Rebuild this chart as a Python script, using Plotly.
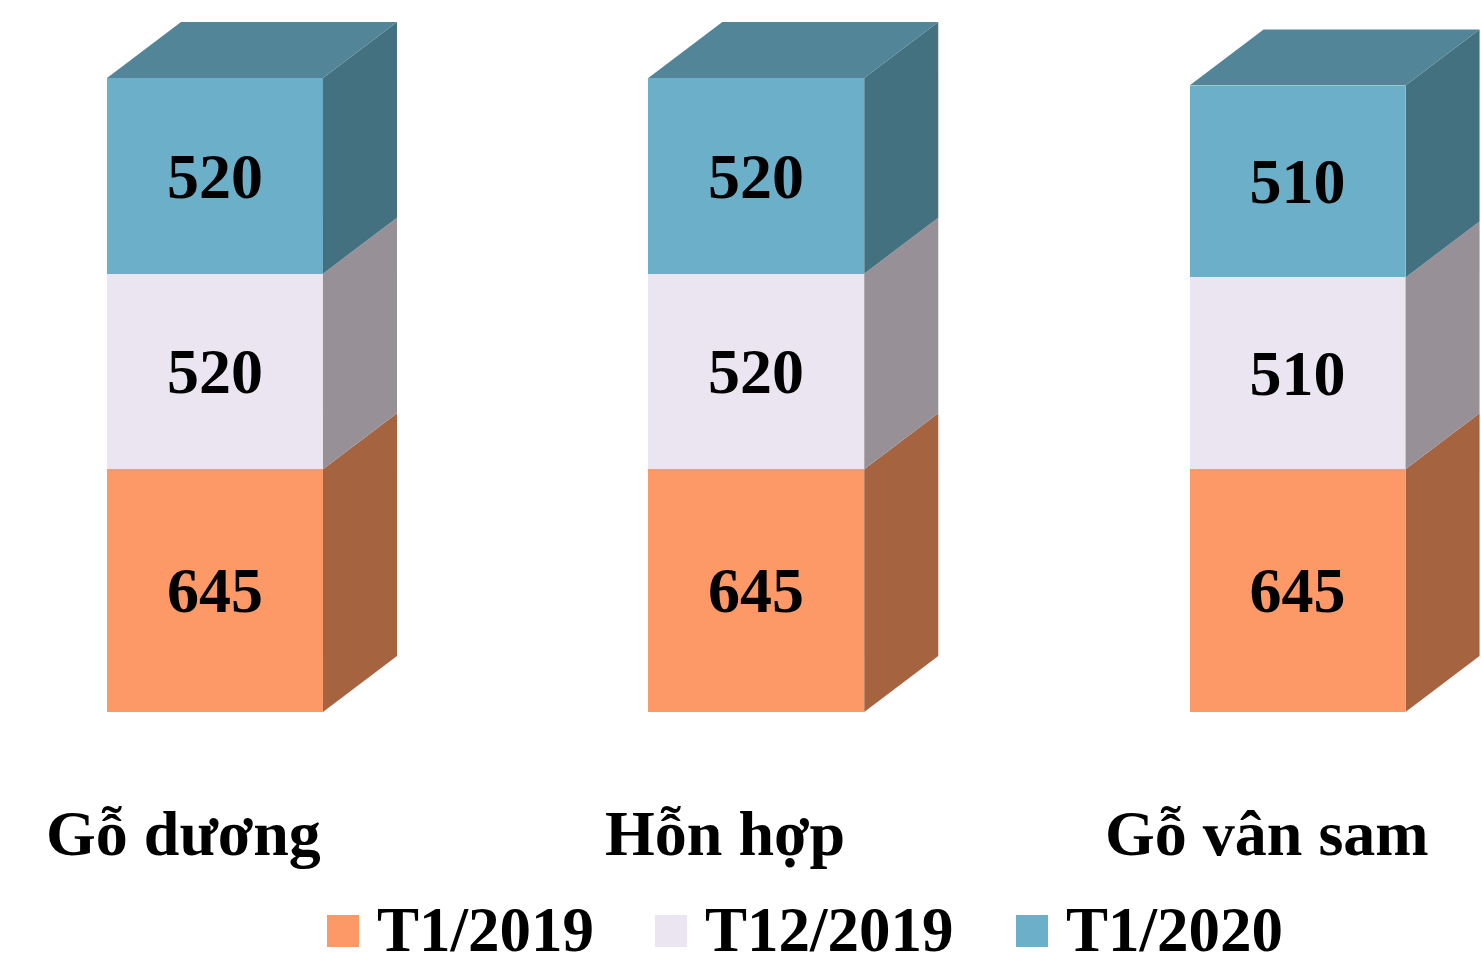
import plotly.graph_objects as go

# ---- data ----
categories = ["Gỗ dương", "Hỗn hợp", "Gỗ vân sam"]
series_names = ["T1/2019", "T12/2019", "T1/2020"]
t1_2019 = [645, 645, 645]
t12_2019 = [520, 520, 510]
t1_2020 = [520, 520, 510]
series_values = [t1_2019, t12_2019, t1_2020]

# ---- style ----
front_colors = ["#FD9966", "#EBE4F1", "#6CAFC8"]
side_colors = ["#A5643F", "#979197", "#44717F"]
top_colors = ["#A97050", "#A29BA5", "#528598"]
FONT = "Liberation Serif, Times New Roman, serif"

W, H = 1481, 955
bar_width = 0.399
depth_x = 0.1368
depth_y = 148.8
x_range = [-0.3972, 2.3390]
y_range = [-645.8, 1892.3]

xs = list(range(len(categories)))

fig = go.Figure()
for name, vals, col in zip(series_names, series_values, front_colors):
    fig.add_trace(go.Bar(
        x=xs, y=vals, name=name, width=bar_width,
        marker=dict(color=col, line=dict(width=0)),
        text=[str(v) for v in vals], textposition="inside",
        insidetextanchor="middle", textangle=0, constraintext="none",
        textfont=dict(family=FONT, size=64, color="black", weight="bold"),
        showlegend=False, hoverinfo="skip",
    ))

# 3D faces derived from the data
shapes = []
for i, x in enumerate(xs):
    base = 0
    xr = x + bar_width / 2
    xl = x - bar_width / 2
    for s, vals in enumerate(series_values):
        top = base + vals[i]
        path = (f"M {xr},{base} L {xr+depth_x},{base+depth_y} "
                f"L {xr+depth_x},{top+depth_y} L {xr},{top} Z")
        shapes.append(dict(type="path", path=path, xref="x", yref="y",
                           fillcolor=side_colors[s], line=dict(width=0), layer="above"))
        base = top
    path = (f"M {xl},{base} L {xr},{base} L {xr+depth_x},{base+depth_y} "
            f"L {xl+depth_x},{base+depth_y} Z")
    shapes.append(dict(type="path", path=path, xref="x", yref="y",
                       fillcolor=top_colors[-1], line=dict(width=0), layer="above"))

annotations = []
for x, cat in zip(xs, categories):
    annotations.append(dict(x=x, y=0, xref="x", yref="y", text=cat, showarrow=False,
                            xshift=-31, yshift=-121, yanchor="middle",
                            font=dict(family=FONT, size=64, color="black", weight="bold")))

# manual legend (large squares like the original)
legend_x = [327, 655, 1016]
legend_y = 931
sq = 32
for name, col, lx in zip(series_names, front_colors, legend_x):
    shapes.append(dict(type="rect", xref="paper", yref="paper",
                       x0=lx / W, x1=(lx + sq) / W,
                       y0=1 - (legend_y + sq / 2) / H, y1=1 - (legend_y - sq / 2) / H,
                       fillcolor=col, line=dict(width=0)))
    annotations.append(dict(x=(lx + sq + 16) / W, y=1 - (legend_y - 1) / H, xref="paper", yref="paper",
                            text=name, showarrow=False, xanchor="left", yanchor="middle",
                            font=dict(family=FONT, size=63, color="black", weight="bold")))

fig.update_layout(
    width=W, height=H, autosize=False,
    barmode="stack", bargap=0,
    margin=dict(l=0, r=0, t=0, b=0),
    paper_bgcolor="white", plot_bgcolor="white",
    xaxis=dict(range=x_range, visible=False, fixedrange=True),
    yaxis=dict(range=y_range, visible=False, fixedrange=True),
    shapes=shapes, annotations=annotations, showlegend=False,
)

fig.write_html(
    "out.html",
    config={"displayModeBar": False},
    post_script="document.body.style.margin='0';document.body.style.overflow='hidden';",
)
